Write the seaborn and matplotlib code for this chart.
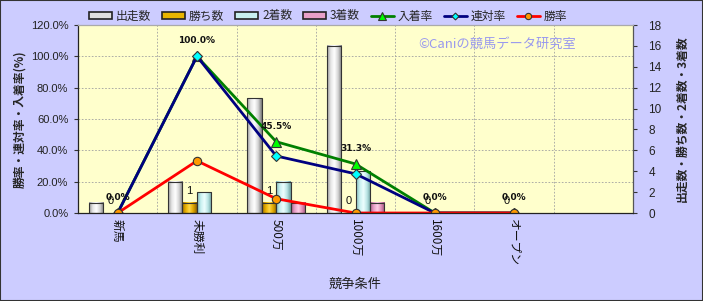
import numpy as np
import pandas as pd
import matplotlib
matplotlib.use("Agg")
import matplotlib.pyplot as plt
import seaborn as sns
from matplotlib.patches import Rectangle, Patch
from matplotlib.lines import Line2D
from matplotlib.colors import LinearSegmentedColormap

# ---- data ----
categories = ["新馬", "未勝利", "500万", "1000万", "1600万", "オープン"]
bar_names = ["出走数", "勝ち数", "2着数", "3着数"]
runs = [1, 3, 11, 16, 0, 0]
wins = [0, 1, 1, 0, 0, 0]
seconds = [0, 2, 3, 4, 0, 0]
thirds = [0, 0, 1, 1, 0, 0]
line_names = ["入着率", "連対率", "勝率"]
place_rate = [0.0, 100.0, 45.5, 31.3, 0.0, 0.0]
rentai_rate = [0.0, 100.0, 36.4, 25.0, 0.0, 0.0]
win_rate = [0.0, 33.3, 9.1, 0.0, 0.0, 0.0]
place_labels = ["0.0%", "100.0%", "45.5%", "31.3%", "0.0%", "0.0%"]
win_labels = ["0", "1", "1", "0", "0", "0"]
left_ticks = [0, 20, 40, 60, 80, 100, 120]
right_ticks = [0, 2, 4, 6, 8, 10, 12, 14, 16, 18]

# ---- styles ----
bar_colors = ["#E0E0E0", "#E8B400", "#C8F0F0", "#E8A0C8"]
bar_grads = [
    ["#9A9A9A", "#E6E6E6", "#FFFFFF", "#D4D4D4", "#7A7A7A"],
    ["#A07000", "#E8B000", "#FFD84A", "#E0A800", "#906400"],
    ["#7FB8B8", "#C8F0F0", "#EEFFFF", "#B8E4E4", "#6A9C9C"],
    ["#B0608A", "#E8A0C8", "#FFD0E8", "#E090B8", "#9A5078"],
]
line_colors = ["#008000", "#000080", "#FF0000"]
line_markers = ["^", "D", "o"]
marker_faces = ["#00FF00", "#00FFFF", "#FF9900"]
marker_sizes = [7, 5, 6]
line_series = [place_rate, rentai_rate, win_rate]

sns.set_theme(style="white")
plt.rcParams["font.family"] = ["Noto Sans CJK JP", "DejaVu Sans"]

fig = plt.figure(figsize=(7.03, 3.01), dpi=100, facecolor="#CCCCFF")
ax = fig.add_axes([78 / 703, 1 - 213 / 301, 555 / 703, 188 / 301])
ax.set_facecolor("#FFFFCC")
ax2 = ax.twinx()

bar_df = pd.DataFrame({
    "競争条件": categories * len(bar_names),
    "数": runs + wins + seconds + thirds,
    "系列": np.repeat(bar_names, len(categories)),
})
sns.barplot(data=bar_df, x="競争条件", y="数", hue="系列", order=categories,
            hue_order=bar_names, palette=bar_colors, width=0.73, saturation=1,
            edgecolor="#333333", linewidth=0.8, legend=False, ax=ax)

# gradient shading of bars
for cont, cols in zip(ax.containers, bar_grads):
    cmap = LinearSegmentedColormap.from_list("g", cols)
    for rect in cont:
        h = rect.get_height()
        rect.set_facecolor("none")
        rect.set_zorder(1.6)
        if h <= 0:
            rect.set_visible(False)
            continue
        x0 = rect.get_x()
        w = rect.get_width()
        grad = np.linspace(0, 1, 64).reshape(1, -1)
        ax.imshow(grad, extent=[x0, x0 + w, 0, h], aspect="auto", cmap=cmap,
                  zorder=1.5, interpolation="bilinear", origin="lower")

# win count labels
ax.bar_label(ax.containers[1], labels=win_labels, padding=5, fontsize=8,
             color="#111111", zorder=3,
             family=["Liberation Sans", "DejaVu Sans"])

# lines
for name, vals, col, mk, mfc, ms in zip(line_names, line_series, line_colors,
                                        line_markers, marker_faces, marker_sizes):
    sns.pointplot(x=categories, y=vals, order=categories, color=col, markers=mk,
                  linestyles="-", errorbar=None, ax=ax2, linewidth=2,
                  markersize=ms, markerfacecolor=mfc, markeredgecolor="#333333",
                  markeredgewidth=0.8)

for i, (v, lab) in enumerate(zip(place_rate, place_labels)):
    ax2.annotate(lab, (i, v), xytext=(0, 8), textcoords="offset points",
                 ha="center", va="bottom", fontsize=6.5, fontweight="bold",
                 color="#111111", family=["DejaVu Sans"])

# axes scales
ax.set_xlim(-0.5, 6.5)
ax.set_ylim(0, 18)
ax2.set_ylim(0, 120)

# grid (drawn behind bars)
for t in left_ticks[1:]:
    ax.axhline(t * 18 / 120, color="#A0A0A0", lw=0.6, ls=(0, (2, 2)), zorder=0.5)
for i in range(len(categories)):
    ax.axvline(i + 0.5, color="#A0A0A0", lw=0.6, ls=(0, (2, 2)), zorder=0.5)

# y axes: counts on right, rates on left
ax.yaxis.tick_right()
ax.yaxis.set_label_position("right")
ax2.yaxis.tick_left()
ax2.yaxis.set_label_position("left")

tick_font = ["Liberation Sans", "DejaVu Sans"]
ax.set_yticks(right_ticks)
ax.set_yticklabels([str(t) for t in right_ticks], fontsize=8.5, family=tick_font, color="#222222")
ax2.set_yticks(left_ticks)
ax2.set_yticklabels([f"{t:.1f}%" for t in left_ticks], fontsize=8, family=tick_font, color="#222222")
ax.tick_params(axis="y", direction="out", length=3, width=0.8, color="#333333", pad=8, right=True)
ax2.tick_params(axis="y", direction="out", length=3, width=0.8, color="#333333", pad=4, left=True)

ax.set_xticks(range(len(categories)))
ax.set_xticklabels(categories, rotation=270, fontsize=8.5, color="#111111")
ax.tick_params(axis="x", length=0, pad=4)

ax.set_ylabel("出走数・勝ち数・2着数・3着数", fontsize=8.5, fontweight="bold", rotation=90, labelpad=10)
ax2.set_ylabel("勝率・連対率・入着率(%)", fontsize=8.5, fontweight="bold", labelpad=3)
ax.set_xlabel("競争条件", fontsize=9.5, color="#222222")
ax.xaxis.set_label_coords(0.5, (213 - 284) / 188)
ax.xaxis.label.set_va("center")

for s in ax.spines.values():
    s.set_visible(False)
ax2.spines["left"].set_color("#222222")
ax2.spines["bottom"].set_color("#222222")
ax2.spines["right"].set_color("#555555")
ax2.spines["top"].set_color("#AAAAAA")
for s in ax2.spines.values():
    s.set_visible(True)
    s.set_linewidth(0.9)

# watermark
ax.text(0.755, 0.899, "©Caniの競馬データ研究室", transform=ax.transAxes,
        ha="center", va="center", fontsize=9.5, color="#9999EE", zorder=1)

# legend
handles = [Patch(facecolor=c, edgecolor="#222222", linewidth=1.2) for c in bar_colors]
for col, mk, mfc, ms in zip(line_colors, line_markers, marker_faces, marker_sizes):
    handles.append(Line2D([], [], color=col, lw=2, marker=mk, markersize=ms - 1.5,
                          markerfacecolor=mfc, markeredgecolor="#333333", markeredgewidth=0.8))
leg = fig.legend(handles, bar_names + line_names, loc="center",
                 bbox_to_anchor=(328 / 703, 1 - 16 / 301), ncol=7, frameon=False,
                 fontsize=8.5, handlelength=2.0, handleheight=0.5, handletextpad=0.3,
                 columnspacing=0.9, borderpad=0)

# figure border
fig.add_artist(Rectangle((0, 0), 1, 1, transform=fig.transFigure, fill=False,
                         edgecolor="#333333", linewidth=1.5))

fig.savefig("out.png", dpi=100, facecolor=fig.get_facecolor())
